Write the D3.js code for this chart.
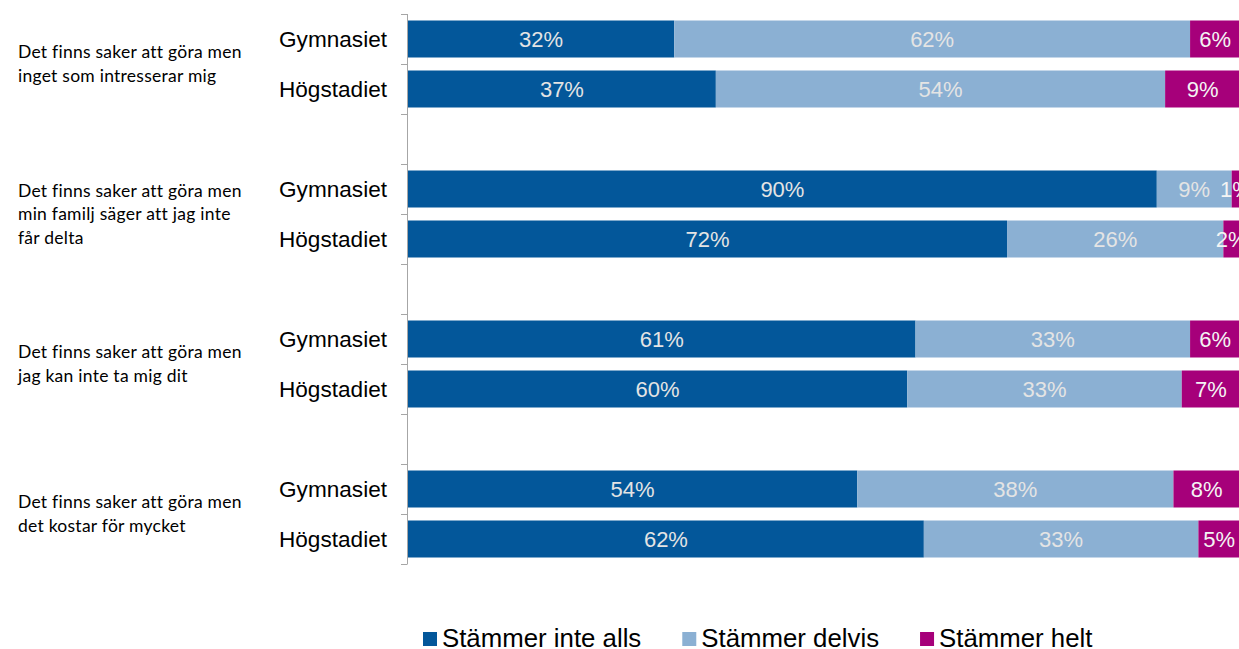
<!DOCTYPE html>
<html>
<head>
<meta charset="utf-8">
<script src="https://cdn.jsdelivr.net/npm/d3@7"></script>
<style>
  body { margin: 0; background: #fff; }
  svg { display: block; }
</style>
</head>
<body>
<svg id="chart" width="1239" height="649"></svg>
<script>
// Data
var questions = [
    ["Det finns saker att göra men", "inget som intresserar mig"],
    ["Det finns saker att göra men", "min familj säger att jag inte", "får delta"],
    ["Det finns saker att göra men", "jag kan inte ta mig dit"],
    ["Det finns saker att göra men", "det kostar för mycket"]
];
var schools = ["Gymnasiet", "Högstadiet"];
var seriesNames = ["Stämmer inte alls", "Stämmer delvis", "Stämmer helt"];
// one value per bar, in order: q1 Gym, q1 Hög, q2 Gym, ...
var inteAlls = [32, 37, 90, 72, 61, 60, 54, 62];
var delvis = [62, 54, 9, 26, 33, 33, 38, 33];
var helt = [6, 9, 1, 2, 6, 7, 8, 5];

var svg = d3.select("#chart");
var colors = ["#03579a", "#8bb0d3", "#a6007a"];
var labelColors = ["#e4e4e4", "#e4e4e4", "#f4f4f4"];

// build rows: two bars per question with an empty row in between
var rows = [];
var bars = [];
questions.forEach(function(q, qi) {
    schools.forEach(function(s, si) {
        var i = qi * 2 + si;
        var key = "q" + qi + "_" + s;
        rows.push(key);
        bars.push({ key: key, school: s, values: [inteAlls[i], delvis[i], helt[i]] });
    });
    if (qi < questions.length - 1) rows.push("gap" + qi);
});

var x = d3.scaleLinear().domain([0, 100]).range([408, 1240]);
var y = d3.scaleBand()
    .domain(rows)
    .range([14, 564])
    .paddingInner(0.26)
    .paddingOuter(0.13);

// stack segments
var segs = [];
bars.forEach(function(b) {
    var x0 = 0;
    b.values.forEach(function(v, k) {
        segs.push({ key: b.key, k: k, v: v, x0: x0, x1: x0 + v });
        x0 += v;
    });
});

svg.append("g")
    .selectAll("rect")
    .data(segs)
    .enter()
    .append("rect")
    .attr("x", function(d) { return x(d.x0); })
    .attr("width", function(d) { return x(d.x1) - x(d.x0); })
    .attr("y", function(d) { return y(d.key); })
    .attr("height", y.bandwidth())
    .attr("fill", function(d) { return colors[d.k]; });

svg.append("g")
    .selectAll("text")
    .data(segs)
    .enter()
    .append("text")
    .attr("x", function(d) { return x((d.x0 + d.x1) / 2); })
    .attr("y", function(d) { return y(d.key) + y.bandwidth() / 2; })
    .attr("dy", "0.36em")
    .attr("text-anchor", "middle")
    .style("font-family", "Liberation Sans, Arial, sans-serif")
    .style("font-size", "22px")
    .attr("fill", function(d) { return labelColors[d.k]; })
    .text(function(d) { return d.v + "%"; });

// axis line with ticks at band boundaries
var half = y.step() * y.paddingInner() / 2;
var tickYs = rows.map(function(r) { return y(r) - half; });
tickYs.push(y(rows[rows.length - 1]) + y.bandwidth() + half);
var axis = svg.append("g").attr("stroke", "#a6a6a6").attr("stroke-width", 1);
axis.append("line")
    .attr("x1", 407.5).attr("x2", 407.5)
    .attr("y1", tickYs[0]).attr("y2", tickYs[tickYs.length - 1]);
axis.selectAll(".tick")
    .data(tickYs)
    .enter()
    .append("line")
    .attr("x1", 401).attr("x2", 407.5)
    .attr("y1", function(d) { return Math.round(d) + 0.5; })
    .attr("y2", function(d) { return Math.round(d) + 0.5; });

// school labels
svg.append("g")
    .selectAll("text")
    .data(bars)
    .enter()
    .append("text")
    .attr("x", 387)
    .attr("y", function(d) { return y(d.key) + y.bandwidth() / 2; })
    .attr("dy", "0.36em")
    .attr("text-anchor", "end")
    .style("font-family", "Liberation Sans, Arial, sans-serif")
    .style("font-size", "22.6px")
    .attr("fill", "#000")
    .text(function(d) { return d.school; });

// question labels, centred on their pair of bars
var lineH = 23.5;
questions.forEach(function(q, qi) {
    var top = y("q" + qi + "_" + schools[0]);
    var bottom = y("q" + qi + "_" + schools[1]) + y.bandwidth();
    var mid = (top + bottom) / 2;
    var t = svg.append("text")
        .attr("x", 18)
        .attr("y", mid - (q.length - 1) * lineH / 2)
        .style("font-family", "Lato, sans-serif")
        .style("font-size", "17.5px")
        .style("letter-spacing", "0.25px")
        .attr("fill", "#000");
    q.forEach(function(line, li) {
        t.append("tspan")
            .attr("x", 18)
            .attr("dy", li === 0 ? "0.35em" : lineH)
            .text(line);
    });
});

// legend
var legend = svg.append("g").attr("transform", "translate(423,632)");
var lx = 0;
seriesNames.forEach(function(name, k) {
    var g = legend.append("g").attr("transform", "translate(" + lx + ",0)");
    g.append("rect").attr("width", 14).attr("height", 14).attr("fill", colors[k]);
    var t = g.append("text")
        .attr("x", 19)
        .attr("y", 15)
        .style("font-family", "Liberation Sans, Arial, sans-serif")
        .style("font-size", "25.8px")
        .attr("fill", "#000")
        .text(name);
    lx += 19 + t.node().getComputedTextLength() + 41;
});
</script>
</body>
</html>
